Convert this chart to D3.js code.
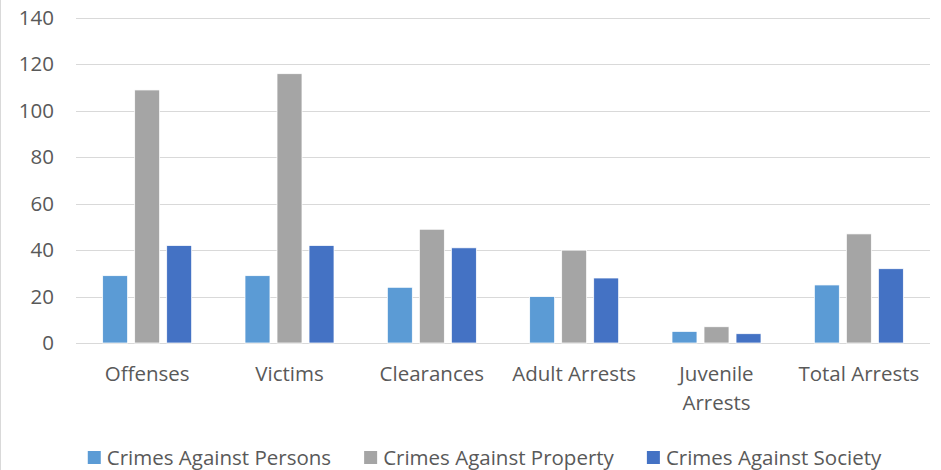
<!DOCTYPE html>
<html>
<head>
<meta charset="utf-8">
<script src="https://cdn.jsdelivr.net/npm/d3@7"></script>
<style>
  html, body { margin: 0; padding: 0; background: #fff; }
  svg { display: block; font-family: "Open Sans", "Noto Sans", sans-serif; }
  .tick text, .lab, .leg text { fill: #595959; }
</style>
</head>
<body>
<svg id="chart" width="941" height="470"></svg>
<script>
// ---- données ----
let categories = ["Offenses", "Victims", "Clearances", "Adult Arrests", "Juvenile\nArrests", "Total Arrests"];
let seriesNames = ["Crimes Against Persons", "Crimes Against Property", "Crimes Against Society"];
let persons  = [29, 29, 24, 20, 5, 25];
let property = [109, 116, 49, 40, 7, 47];
let society  = [42, 42, 41, 28, 4, 32];
let yTicks = [0, 20, 40, 60, 80, 100, 120, 140];

let COLORS = ["#5B9BD5", "#A5A5A5", "#4472C4"];
let FS = 20.5; // taille de police

let svg = d3.select("#chart");
let W = 941, H = 470;

// bordure gauche du cadre
svg.append("line")
  .attr("x1", 0.5).attr("x2", 0.5).attr("y1", 0).attr("y2", H)
  .attr("stroke", "#d9d9d9").attr("stroke-width", 1);

let plot = { left: 76, right: 930, top: 18, bottom: 343 };

let x = d3.scaleBand()
  .domain(categories)
  .range([plot.left, plot.right])
  .paddingInner(0).paddingOuter(0);

let x1 = d3.scaleBand()
  .domain(seriesNames)
  .range([0, 89])
  .paddingInner(0.22);

let y = d3.scaleLinear()
  .domain([0, 140])
  .range([plot.bottom, plot.top]);

// grille
svg.append("g")
  .selectAll("line")
  .data(yTicks)
  .join("line")
  .attr("x1", plot.left).attr("x2", plot.right)
  .attr("y1", d => Math.round(y(d)) + 0.5)
  .attr("y2", d => Math.round(y(d)) + 0.5)
  .attr("stroke", "#d9d9d9").attr("stroke-width", 1);

// axe Y (texte seulement)
let yAxis = svg.append("g")
  .attr("transform", `translate(${plot.left - 22},0)`)
  .call(d3.axisLeft(y).tickValues(yTicks).tickSize(0).tickPadding(0));
yAxis.select(".domain").remove();
yAxis.selectAll("text")
  .attr("font-size", FS)
  .attr("font-family", "Open Sans, sans-serif");

// barres
let table = categories.map((c, i) => ({ cat: c, vals: [persons[i], property[i], society[i]] }));

let groups = svg.append("g")
  .selectAll("g")
  .data(table)
  .join("g")
  .attr("transform", d => `translate(${x(d.cat) + x.bandwidth() / 2 - 44.5},0)`);

groups.selectAll("rect")
  .data(d => d.vals.map((v, k) => ({ name: seriesNames[k], v, k })))
  .join("rect")
  .attr("x", d => x1(d.name))
  .attr("width", x1.bandwidth())
  .attr("y", d => y(d.v))
  .attr("height", d => y(0) - y(d.v))
  .attr("fill", d => COLORS[d.k])
  .attr("stroke", "#ffffff")
  .attr("stroke-width", 0.75);

// étiquettes des catégories
let labs = svg.append("g")
  .selectAll("text")
  .data(categories)
  .join("text")
  .attr("class", "lab")
  .attr("text-anchor", "middle")
  .attr("font-size", FS)
  .attr("x", d => x(d) + x.bandwidth() / 2)
  .attr("y", 381);

labs.selectAll("tspan")
  .data(d => d.split("\n"))
  .join("tspan")
  .attr("x", function () { return d3.select(this.parentNode).attr("x"); })
  .attr("dy", (d, i) => i === 0 ? 0 : 29)
  .text(d => d);

// légende
let leg = svg.append("g").attr("class", "leg");
let items = leg.selectAll("g")
  .data(seriesNames)
  .join("g");
items.append("rect")
  .attr("width", 13).attr("height", 13)
  .attr("y", 451)
  .attr("fill", (d, i) => COLORS[i]);
items.append("text")
  .attr("x", 19)
  .attr("y", 464.5)
  .attr("font-size", FS)
  .text(d => d);

let pos = 0;
let offsets = [];
items.each(function () {
  let w = this.querySelector("text").getComputedTextLength() + 19;
  offsets.push(pos);
  pos += w + 33;
});
let totalW = pos - 33;
let startX = 484.5 - totalW / 2;
items.attr("transform", (d, i) => `translate(${startX + offsets[i]},0)`);
</script>
</body>
</html>
